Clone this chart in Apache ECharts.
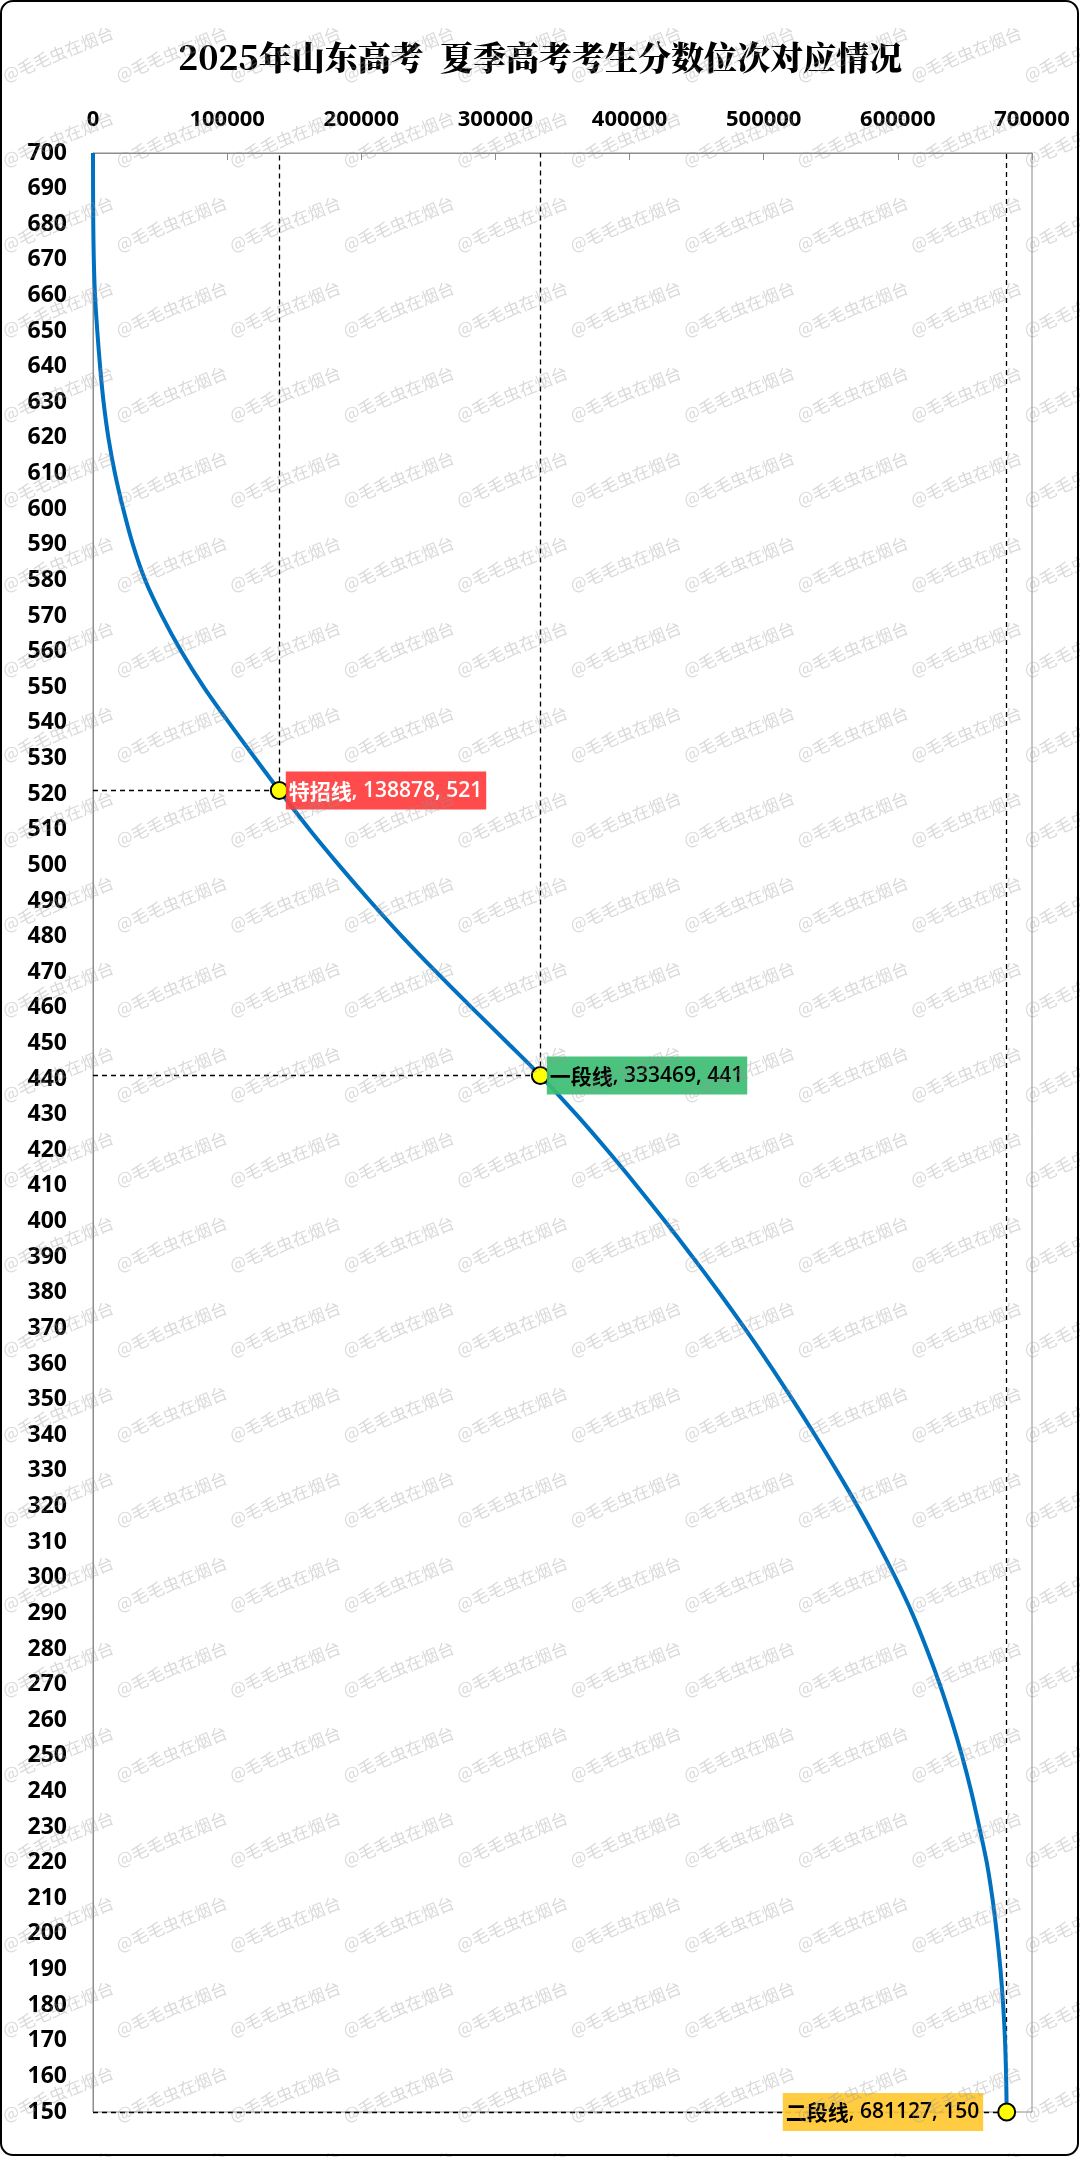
<!DOCTYPE html>
<html>
<head>
<meta charset="utf-8">
<script src="https://cdn.jsdelivr.net/npm/echarts@6/dist/echarts.min.js"></script>
<style>
html,body{margin:0;padding:0;background:#fff;}
#c{width:1080px;height:2157px;}
</style>
</head>
<body>
<div id="c"></div>
<script>
// ---- data ----
const titleText = '2025年山东高考  夏季高考考生分数位次对应情况';
const scores = [700,690,680,670,660,650,640,630,620,610,600,590,580,570,560,550,540,530,521,510,500,490,480,470,460,450,441,430,420,410,400,390,380,370,360,350,340,330,320,310,300,290,280,270,260,250,240,230,220,210,200,190,180,170,160,150];
const ranks = [0,50,200,600,1500,3200,5300,7900,11500,16400,22600,29800,39000,51500,66000,82700,101500,121000,138878,161500,183500,206500,230500,256000,282500,309500,333469,360400,383400,405400,426600,447100,466900,485900,504100,521500,538300,554500,570000,584600,598200,610700,621500,631300,640000,647800,654700,660700,666300,670500,673800,676500,678500,679900,680700,681127];
const markNames = ['特招线','一段线','二段线'];
const markRanks = [138878, 333469, 681127];
const markScores = [521, 441, 150];
const watermarkText = '@毛毛虫在烟台';

// ---- styles ----
const labelStyles = [
  {bg:'rgba(255,60,60,0.92)', color:'#fff', position:'right', distance:-3},
  {bg:'rgba(60,190,115,0.92)', color:'#000', position:'right', distance:-3},
  {bg:'rgba(255,200,50,0.92)', color:'#000', position:'left', distance:14}
];

const chart = echarts.init(document.getElementById('c'), null, {renderer:'canvas'});

const lineData = scores.map((s,i)=>[ranks[i], s]);

const markData = markRanks.map((r,i)=>({
  value:[r, markScores[i]],
  name: markNames[i],
  label:{
    show:true,
    position: labelStyles[i].position,
    distance: labelStyles[i].distance,
    backgroundColor: labelStyles[i].bg,
    padding:[9,4,8,3],
    formatter: '{n|' + markNames[i] + '}{v|, ' + r + ', ' + markScores[i] + '}',
    rich:{
      n:{fontSize:21, fontWeight:'bold', color:labelStyles[i].color, fontFamily:'"Noto Sans CJK SC", sans-serif'},
      v:{fontSize:21, fontWeight:600, color:labelStyles[i].color, fontFamily:'"Open Sans", sans-serif'}
    }
  }
}));

const markLines = [];
markRanks.forEach((r,i)=>{
  markLines.push([{coord:[r, markScores[i]]},{coord:[r, 700]}]);
  markLines.push([{coord:[0, markScores[i]]},{coord:[r, markScores[i]]}]);
});

// watermark grid
const graphics = [];
for (let j=-2; j<=25; j++){
  for (let i=-1; i<=9; i++){
    graphics.push({
      type:'text', silent:true, z:100,
      x: 3.3 + 113.5*i, y: 2031 - 85*j,
      rotation: 22*Math.PI/180,
      style:{text:watermarkText, fontSize:17, fill:'rgba(150,150,150,0.36)',
        fontFamily:'"Noto Sans CJK SC", sans-serif', align:'left', verticalAlign:'middle'}
    });
  }
}
graphics.push({
  type:'rect', silent:true, z:101,
  shape:{x:1, y:1, width:1077, height:2154, r:12},
  style:{fill:'none', stroke:'#000', lineWidth:2}
});

chart.setOption({
  animation:false,
  backgroundColor:'#fff',
  title:{
    text:titleText, left:'center', top:36,
    textStyle:{fontSize:33, fontWeight:900, color:'#000', fontFamily:'"Noto Serif CJK SC","Noto Sans CJK SC", serif'}
  },
  grid:{left:93, right:48, top:153, bottom:45, show:true, borderColor:'#8c8c8c', borderWidth:1},
  xAxis:{
    type:'value', position:'top', min:0, max:700000, interval:100000,
    axisLine:{show:true, lineStyle:{color:'#8c8c8c', width:1}},
    axisTick:{show:true, inside:true, length:7, lineStyle:{color:'#8c8c8c'}},
    splitLine:{show:false},
    axisLabel:{margin:22, fontSize:22, fontWeight:'bold', color:'#000', fontFamily:'"Open Sans", sans-serif',
      formatter: v => String(v)}
  },
  yAxis:{
    type:'value', min:150, max:700, interval:10,
    axisLine:{show:true, lineStyle:{color:'#8c8c8c', width:1}},
    axisTick:{show:false},
    splitLine:{show:false},
    axisLabel:{margin:26, fontSize:23, fontWeight:'bold', color:'#000', fontFamily:'"Open Sans", sans-serif'}
  },
  graphic: graphics,
  series:[
    {
      type:'line', data:lineData, smooth:0.3,
      showSymbol:false, symbol:'none', z:3,
      lineStyle:{color:'#0070C0', width:4},
      markLine:{
        silent:true, symbol:['none','none'], z:2,
        label:{show:false},
        lineStyle:{type:[5,4], color:'#000', width:1.3},
        data: markLines
      }
    },
    {
      type:'scatter', data:markData, symbol:'circle', symbolSize:17, z:5,
      itemStyle:{color:'#FFFF00', borderColor:'#000', borderWidth:2, opacity:1}
    }
  ]
});
</script>
</body>
</html>
